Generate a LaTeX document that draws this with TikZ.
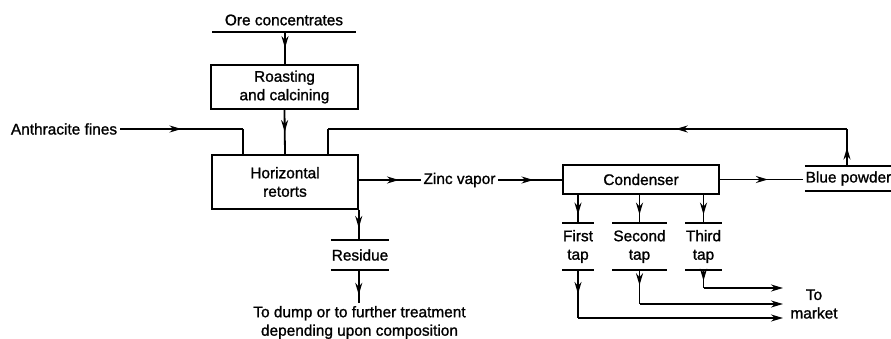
\documentclass[tikz,border=0pt]{standalone}
\usepackage{fontspec}
\setmainfont{Liberation Sans}[FakeBold=1.2]
\usetikzlibrary{arrows.meta,decorations.markings}
\begin{document}
\begin{tikzpicture}[x=1pt,y=-1pt, line width=1.8pt,
  font=\fontsize{15.4}{18.5}\selectfont,
  box/.style={draw, line width=1.5pt, rectangle, inner sep=0pt, align=center},
  lbl/.style={inner sep=0pt, align=center},
  ar/.style={postaction={decorate},decoration={markings,mark=at position #1 with {\arrow{Stealth[length=12pt,width=7pt]}}}},
  ar/.default=0.5,
  tipend/.style={-{Stealth[length=12pt,width=7pt]}},
  rule/.style={line width=1.5pt}]
\useasboundingbox (0,0) rectangle (891,339);
% ore
\node[lbl] (ore) at (284,20) {Ore concentrates};
\coordinate (oreL) at (212,32);
\coordinate (oreR) at (356,32);
\coordinate (oreB) at (285,32);
\draw[rule] (oreL) -- (oreR);
\node[box, minimum width=147, minimum height=44] (roast) at (284.5,87) {Roasting\\and calcining};
\draw[ar] (oreB) -- (roast.north -| oreB);
\node[box, minimum width=146, minimum height=54] (ret) at (285,182) {Horizontal\\retorts};
\draw[ar=0.5] (roast.south) -- (ret.north);
% anthracite
\node[lbl, anchor=east] (anth) at (118,129) {Anthracite fines};
\coordinate (a1) at (243,129);
\draw[ar=0.5] ([xshift=2pt]anth.east) -- (a1);
\draw (a1) -- (a1 |- ret.north);
% blue powder & recycle
\node[lbl, minimum width=85, minimum height=23] (blue) at (848.5,178.5) {Blue powder};
\draw[rule] (blue.north west) -- (blue.north east);
\draw[rule] (blue.south west) -- (blue.south east);
\coordinate (r1) at (847,129);
\coordinate (r2) at (328,129);
\draw[ar=0.5] (r1 |- blue.north) -- (r1);
\draw[ar=0.33] (r1) -- (r2);
\draw (r2) -- (r2 |- ret.north);
% zinc vapor
\node[lbl] (zinc) at (459.5,180) {Zinc vapor};
\draw[ar=0.65] (ret.east |- zinc) -- ([xshift=-2pt]zinc.west);
\node[box, minimum width=156, minimum height=29] (cond) at (641,179.5) {Condenser};
\draw[ar=0.55] ([xshift=2pt]zinc.east) -- (cond.west |- zinc.east);
\draw[ar=0.58] (cond.east) -- ([xshift=-2pt]blue.west |- cond.east);
% taps
\node[lbl, minimum width=30, minimum height=45] (t1) at (578,246.5) {First\\tap};
\node[lbl, minimum width=49, minimum height=45] (t2) at (639.5,246.5) {Second\\tap};
\node[lbl, minimum width=33, minimum height=45] (t3) at (703.5,246.5) {Third\\tap};
\foreach \t in {t1,t2,t3}{
  \draw[rule] (\t.north west) -- (\t.north east);
  \draw[rule] (\t.south west) -- (\t.south east);
  \draw[ar=0.7] (\t.north |- cond.south) -- (\t.north);
}
\node[lbl] (mkt) at (814,304) {To\\market};
\coordinate (m3) at (783,288);
\coordinate (m2) at (783,304);
\coordinate (m1) at (783,318);
\draw[ar=0.6] (t3.south) -- (t3.south |- m3);
\draw[tipend] (t3.south |- m3) -- (m3);
\draw[ar=0.45] (t2.south) -- (t2.south |- m2);
\draw[tipend] (t2.south |- m2) -- (m2);
\draw[ar=0.5] (t1.south) -- (t1.south |- m1);
\draw[tipend] (t1.south |- m1) -- (m1);
% residue
\node[lbl, minimum width=54, minimum height=28] (res) at (360,255) {Residue};
\draw[rule] (res.north west) -- (res.north east);
\draw[rule] (res.south west) -- (res.south east);
\draw[ar=0.6] (ret.south east) -- (res.north -| ret.south east);
\node[lbl] (dump) at (359.5,322.5) {To dump or to further treatment\\depending upon composition};
\draw[ar=0.75] (res.south -| ret.south east) -- ([yshift=2pt]dump.north -| ret.south east);
\end{tikzpicture}
\end{document}
